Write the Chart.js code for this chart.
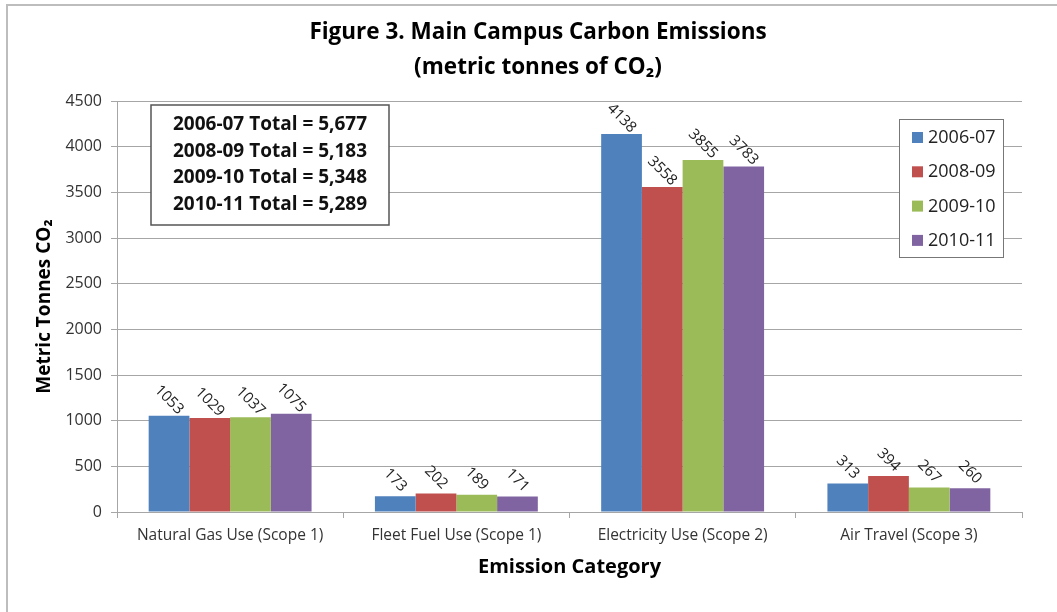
<!DOCTYPE html>
<html>
<head>
<meta charset="utf-8">
<title>Main Campus Carbon Emissions</title>
<script src="https://cdn.jsdelivr.net/npm/chart.js@4.4.1/dist/chart.umd.min.js"></script>
<style>
  html, body { margin: 0; padding: 0; background: #fff; overflow: hidden; }
  #wrap { position: relative; width: 1057px; height: 612px; }
</style>
</head>
<body>
<div id="wrap"><canvas id="emissionsChart" width="1057" height="612"></canvas></div>
<script>
// ===== Data =====
const categories = ['Natural Gas Use (Scope 1)', 'Fleet Fuel Use (Scope 1)', 'Electricity Use (Scope 2)', 'Air Travel (Scope 3)'];
const years = ['2006-07', '2008-09', '2009-10', '2010-11'];
const values0607 = [1053, 173, 4138, 313];
const values0809 = [1029, 202, 3558, 394];
const values0910 = [1037, 189, 3855, 267];
const values1011 = [1075, 171, 3783, 260];
const totals = ['5,677', '5,183', '5,348', '5,289'];
const yTicks = [0, 500, 1000, 1500, 2000, 2500, 3000, 3500, 4000, 4500];

const colors = ['#4F81BD', '#C0504D', '#9BBB59', '#8064A2'];
const FONT = "'Open Sans', 'Noto Sans', sans-serif";
const gridGrey = '#a6a6a6';

// ===== Plugins =====
// page frame + two-line title
const framePlugin = {
  id: 'frame',
  beforeDraw(chart) {
    const c = chart.ctx;
    c.save();
    c.strokeStyle = '#bdbdbd';
    c.lineWidth = 2;
    c.beginPath();
    c.moveTo(7, chart.height);
    c.lineTo(7, 5);
    c.lineTo(chart.width, 5);
    c.stroke();
    c.fillStyle = '#000';
    c.textAlign = 'center';
    c.textBaseline = 'middle';
    c.font = 'bold 22.5px ' + FONT;
    c.fillText('Figure 3. Main Campus Carbon Emissions', 538, 33);
    c.fillText('(metric tonnes of CO\u2082)', 538, 68);
    c.restore();
  }
};

// rotated value labels above bars
const barLabels = {
  id: 'barLabels',
  afterDatasetsDraw(chart) {
    const c = chart.ctx;
    c.save();
    c.font = '15px ' + FONT;
    c.fillStyle = '#222';
    c.textAlign = 'center';
    c.textBaseline = 'middle';
    chart.data.datasets.forEach((ds, i) => {
      chart.getDatasetMeta(i).data.forEach((bar, j) => {
        c.save();
        c.translate(bar.x, bar.y - 16);
        c.rotate(Math.PI / 4);
        c.fillText(String(ds.data[j]), 0, 0);
        c.restore();
      });
    });
    c.restore();
  }
};

// totals box + bordered legend
const boxes = {
  id: 'boxes',
  afterDraw(chart) {
    const c = chart.ctx;
    const area = chart.chartArea;
    c.save();
    // totals box
    c.fillStyle = '#fff';
    c.strokeStyle = '#555';
    c.lineWidth = 1.5;
    c.fillRect(151, 105, 238, 120);
    c.strokeRect(151, 105, 238, 120);
    c.fillStyle = '#111';
    c.font = 'bold 19px ' + FONT;
    c.textAlign = 'center';
    c.textBaseline = 'middle';
    years.forEach((y, i) => {
      c.fillText(y + ' Total = ' + totals[i], 270, 125 + i * 26.5);
    });

    // legend
    const lx = area.right - 123, ly = 119;
    c.fillStyle = '#fff';
    c.strokeStyle = '#777';
    c.lineWidth = 1;
    c.fillRect(lx, ly, 104, 138);
    c.strokeRect(lx + 0.5, ly + 0.5, 104, 138);
    c.font = '18px ' + FONT;
    c.textAlign = 'left';
    chart.data.datasets.forEach((ds, i) => {
      const cy = 137 + i * 34.3;
      c.fillStyle = ds.backgroundColor;
      c.fillRect(lx + 13, cy - 5, 11, 11);
      c.fillStyle = '#222';
      c.fillText(ds.label, lx + 29, cy + 1);
    });
    c.restore();
  }
};

// ===== Chart =====
const ctx = document.getElementById('emissionsChart');
new Chart(ctx, {
  type: 'bar',
  data: {
    labels: categories,
    datasets: [
      { label: years[0], data: values0607, backgroundColor: colors[0] },
      { label: years[1], data: values0809, backgroundColor: colors[1] },
      { label: years[2], data: values0910, backgroundColor: colors[2] },
      { label: years[3], data: values1011, backgroundColor: colors[3] }
    ]
  },
  options: {
    responsive: false,
    animation: false,
    devicePixelRatio: 1,
    categoryPercentage: 0.72,
    barPercentage: 1,
    layout: { padding: { top: 101, right: 35, left: 0, bottom: 0 } },
    plugins: {
      legend: { display: false },
      title: { display: false },
      tooltip: { enabled: false }
    },
    scales: {
      x: {
        grid: { offset: true, drawOnChartArea: false, color: gridGrey, tickLength: 6 },
        border: { color: gridGrey },
        ticks: { color: '#333', font: { family: FONT, size: 15.5 }, padding: 8, maxRotation: 0 },
        title: {
          display: true,
          text: 'Emission Category',
          color: '#000',
          font: { family: FONT, size: 20, weight: 'bold' },
          padding: { top: 0, bottom: 33 }
        },
        afterFit(scale) { scale.height = 100; }
      },
      y: {
        min: 0,
        max: 4500,
        afterBuildTicks(scale) { scale.ticks = yTicks.map(v => ({ value: v })); },
        grid: { color: gridGrey, tickLength: 6 },
        border: { color: gridGrey },
        ticks: {
          color: '#333',
          font: { family: FONT, size: 16 },
          padding: 9,
          callback: v => String(v)
        },
        title: {
          display: true,
          text: 'Metric Tonnes CO\u2082',
          color: '#000',
          font: { family: FONT, size: 19, weight: 'bold' },
          padding: { top: 33, bottom: 0 }
        },
        afterFit(scale) { scale.width = 117; }
      }
    }
  },
  plugins: [framePlugin, barLabels, boxes]
});
</script>
</body>
</html>
